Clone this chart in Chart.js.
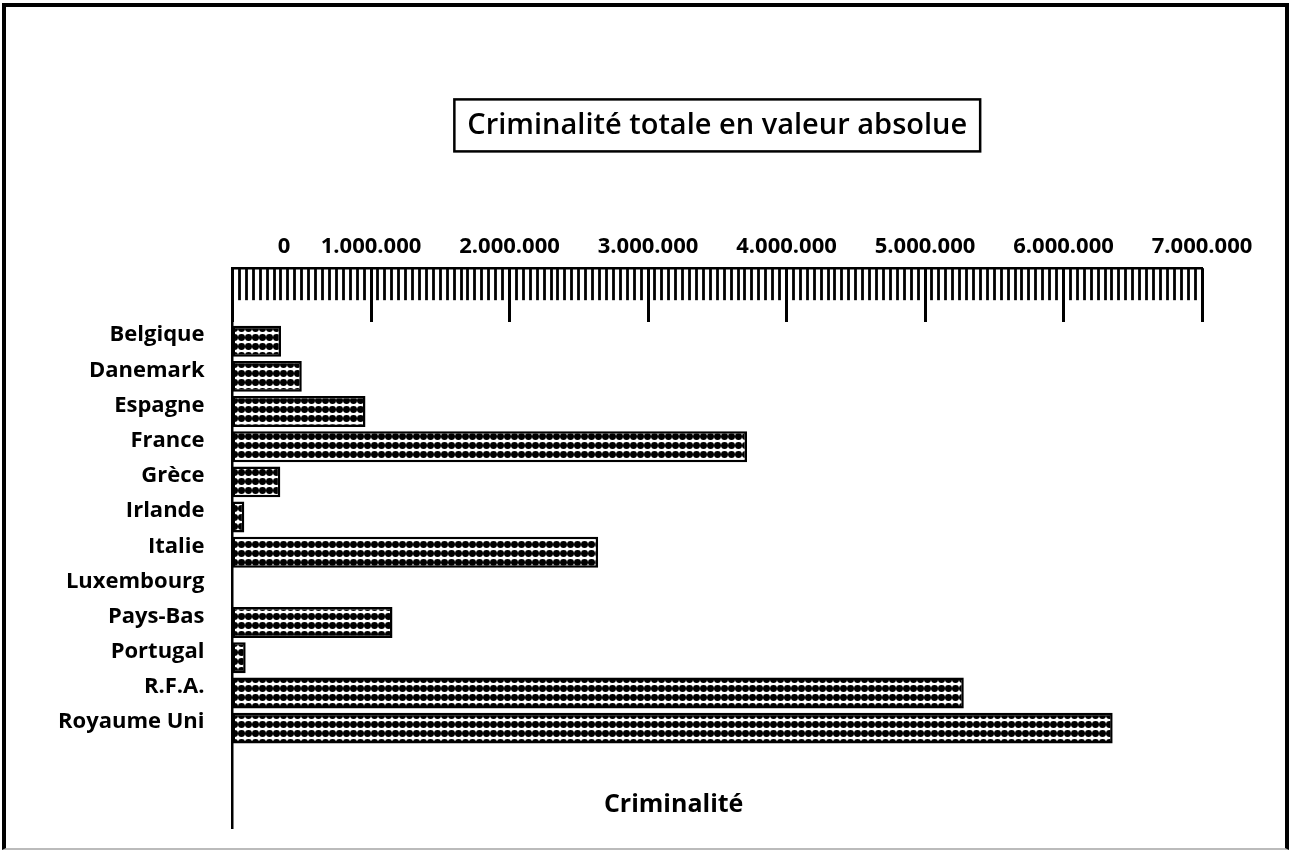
<!DOCTYPE html>
<html lang="fr">
<head>
<meta charset="utf-8">
<title>Criminalité totale en valeur absolue</title>
<script src="https://cdn.jsdelivr.net/npm/chart.js@4/dist/chart.umd.min.js"></script>
<style>
    html, body { margin: 0; padding: 0; background: #fff; overflow: hidden; }
    #wrap { position: relative; width: 1297px; height: 850px; }
    #frame {
        position: absolute; left: 2px; top: 3px; width: 1287px; height: 847px;
        box-sizing: border-box; border: 4px solid #000; border-bottom: 2px solid #bbb;
        pointer-events: none;
    }
</style>
</head>
<body>
<div id="wrap">
    <canvas id="crimeChart" width="1297" height="850"></canvas>
    <div id="frame"></div>
</div>
<script>
const countries = ['Belgique', 'Danemark', 'Espagne', 'France', 'Grèce', 'Irlande', 'Italie',
    'Luxembourg', 'Pays-Bas', 'Portugal', 'R.F.A.', 'Royaume Uni'];
const crimes = [350000, 500000, 960000, 3715000, 345000, 85000, 2640000,
    4000, 1155000, 95000, 5280000, 6355000];
const xTickLabels = ['0', '1.000.000', '2.000.000', '3.000.000', '4.000.000',
    '5.000.000', '6.000.000', '7.000.000'];
const seriesName = 'Criminalité';
const chartTitle = 'Criminalité totale en valeur absolue';

const FONT = '"Open Sans", "DejaVu Sans", sans-serif';

// dotted fill like the old printer pattern
function makeDots() {
    const c = document.createElement('canvas');
    c.width = 7;
    c.height = 9;
    const g = c.getContext('2d');
    g.fillStyle = '#fff';
    g.fillRect(0, 0, 7, 9);
    g.fillStyle = '#000';
    g.beginPath();
    g.ellipse(3.5, 4.5, 3.5, 3.4, 0, 0, Math.PI * 2);
    g.fill();
    return g.createPattern(c, 'repeat');
}

const isMajor = v => v % 1000000 === 0;

// box round the title and series name under the bars
const extras = {
    id: 'extras',
    afterDraw(chart) {
        const ctx = chart.ctx;
        const tb = chart.titleBlock;
        const tOpts = chart.options.plugins.title;
        ctx.save();
        ctx.font = `600 ${tOpts.font.size}px ${FONT}`;
        const w = ctx.measureText(chartTitle).width;
        const cx = (tb.left + tb.right) / 2;
        const cy = tb.top + tOpts.padding.top + tOpts.font.size * 0.6;
        ctx.lineWidth = 2.5;
        ctx.strokeStyle = '#000';
        ctx.strokeRect(cx - w / 2 - 13, cy - 26, w + 26, 52);

        const area = chart.chartArea;
        ctx.font = `bold 25px ${FONT}`;
        ctx.fillStyle = '#000';
        ctx.textAlign = 'center';
        ctx.textBaseline = 'alphabetic';
        ctx.fillText(seriesName, area.left + (area.right - area.left) * 0.455, area.bottom - 16);
        ctx.restore();
    }
};

const ctx = document.getElementById('crimeChart').getContext('2d');
const chart = new Chart(ctx, {
    type: 'bar',
    data: {
        datasets: [{
            label: seriesName,
            data: countries.map((c, i) => ({ x: crimes[i], y: i })),
            backgroundColor: makeDots(),
            borderColor: '#000',
            borderWidth: 2.5,
            borderSkipped: false,
            barPercentage: 0.88,
            categoryPercentage: 1
        }]
    },
    options: {
        indexAxis: 'y',
        responsive: false,
        animation: false,
        devicePixelRatio: 1,
        layout: { padding: { left: 30, right: 95, top: 0, bottom: 22 } },
        plugins: {
            legend: { display: false },
            tooltip: { enabled: false },
            title: {
                display: true,
                text: chartTitle,
                fullSize: false,
                color: '#000',
                font: { family: FONT, size: 29, weight: '600' },
                padding: { top: 108, bottom: 91 }
            }
        },
        scales: {
            x: {
                type: 'linear',
                position: 'top',
                weight: 1,
                min: 0,
                max: 7000000,
                grid: { display: false },
                border: { display: true, color: '#000', width: 2.5 },
                ticks: {
                    stepSize: 1000000,
                    color: '#000',
                    padding: 0,
                    font: { family: FONT, size: 22, weight: 'bold' },
                    callback: v => v === 0 ? xTickLabels[0].padStart(19) : xTickLabels[v / 1000000]
                }
            },
            x2: {
                type: 'linear',
                axis: 'x',
                position: 'top',
                weight: 0,
                min: 0,
                max: 7000000,
                border: { display: false },
                grid: {
                    drawOnChartArea: false,
                    drawTicks: true,
                    tickLength: 54,
                    tickColor: '#000',
                    tickWidth: c => isMajor(c.tick.value) ? 3 : 2.8,
                    tickBorderDash: c => isMajor(c.tick.value) ? [] : [32, 60]
                },
                ticks: { display: false, stepSize: 50000, autoSkip: false }
            },
            y: {
                type: 'linear',
                reverse: true,
                offset: false,
                bounds: 'data',
                min: -0.54,
                max: 13.84,
                // one tick per country, nothing in the empty space below
                afterBuildTicks: scale => {
                    scale.ticks = countries.map((c, i) => ({ value: i }));
                },
                afterFit: scale => {
                    scale.paddingTop = 0;
                    scale.paddingBottom = 0;
                },
                grid: { display: false, drawTicks: false },
                border: { display: true, color: '#000', width: 2.5 },
                ticks: {
                    autoSkip: false,
                    padding: 28,
                    labelOffset: -6,
                    color: '#000',
                    font: { family: FONT, size: 22, weight: 'bold' },
                    callback: v => countries[v]
                }
            }
        }
    },
    plugins: [extras]
});
</script>
</body>
</html>
